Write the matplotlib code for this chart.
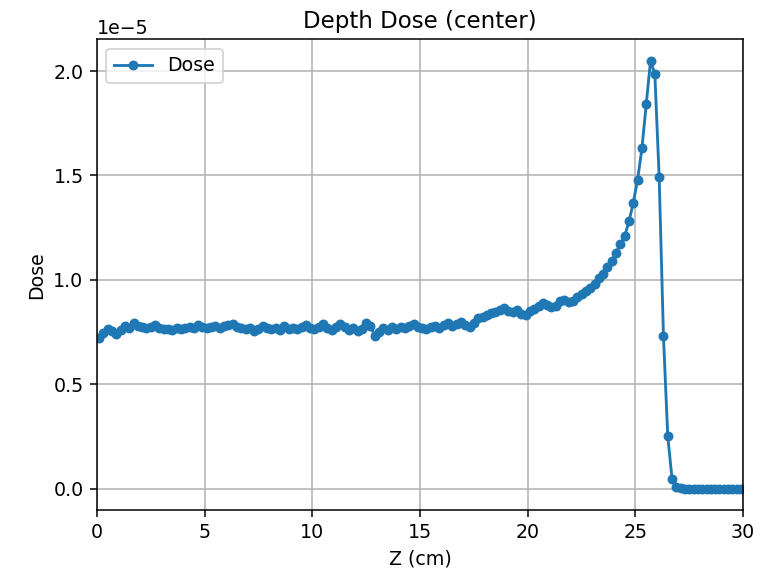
import numpy as np
import matplotlib
matplotlib.use("Agg")
import matplotlib.pyplot as plt

# Depth positions (bin centres, cm)
z_cm = [0.1 + 0.2 * k for k in range(150)]

# Dose values (units of 1e-5)
dose_e5 = [
    0.72, 0.745, 0.765, 0.755, 0.74, 0.76, 0.78, 0.77, 0.795, 0.78,
    0.775, 0.77, 0.775, 0.785, 0.77, 0.765, 0.765, 0.76, 0.77, 0.765,
    0.77, 0.775, 0.77, 0.785, 0.775, 0.77, 0.775, 0.78, 0.77, 0.78,
    0.785, 0.79, 0.775, 0.77, 0.765, 0.77, 0.755, 0.765, 0.78, 0.77,
    0.765, 0.77, 0.76, 0.78, 0.765, 0.77, 0.765, 0.775, 0.785, 0.77,
    0.765, 0.775, 0.79, 0.77, 0.76, 0.775, 0.79, 0.775, 0.76, 0.77,
    0.755, 0.765, 0.795, 0.78, 0.73, 0.75, 0.77, 0.76, 0.775, 0.765,
    0.775, 0.77, 0.78, 0.79, 0.775, 0.77, 0.765, 0.775, 0.78, 0.77,
    0.785, 0.795, 0.78, 0.79, 0.80, 0.785, 0.775, 0.795, 0.815, 0.82,
    0.83, 0.84, 0.845, 0.855, 0.865, 0.85, 0.845, 0.855, 0.835, 0.83,
    0.85, 0.86, 0.875, 0.89, 0.88, 0.87, 0.875, 0.90, 0.905, 0.895,
    0.90, 0.92, 0.93, 0.945, 0.96, 0.98, 1.01, 1.03, 1.06, 1.09,
    1.13, 1.17, 1.21, 1.28, 1.37, 1.48, 1.63, 1.84, 2.05, 1.985,
    1.495, 0.73, 0.25, 0.046, 0.01, 0.003, 0.0, 0.0, 0.0, 0.0,
    0.0, 0.0, 0.0, 0.0, 0.0, 0.0, 0.0, 0.0, 0.0, 0.0,
]

dose = np.array(dose_e5) * 1e-5

fig = plt.figure(figsize=(763 / 137, 577 / 137), dpi=137)
ax = fig.add_axes([0.127, 0.116, 0.847, 0.816])
ax.plot(z_cm, dose, marker="o", markersize=4.2, linewidth=1.5,
        color="#1f77b4", label="Dose")
ax.set_xlim(0, 30)
ax.set_title("Depth Dose (center)")
ax.set_xlabel("Z (cm)")
ax.set_ylabel("Dose")
ax.grid(True)
ax.legend(loc="upper left")
fig.savefig("out.png", dpi=137)
